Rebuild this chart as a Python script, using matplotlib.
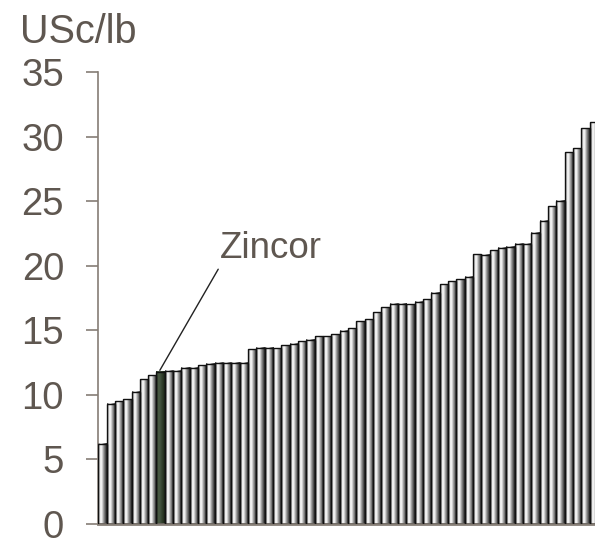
import numpy as np
import matplotlib
matplotlib.use("Agg")
import matplotlib.pyplot as plt
from matplotlib.colors import LinearSegmentedColormap

# cost curve values, USc/lb, sorted ascending
costs = [6.2, 9.3, 9.5, 9.65, 10.25, 11.2, 11.5, 11.8, 11.85, 11.85,
         12.1, 12.1, 12.3, 12.4, 12.5, 12.5, 12.5, 12.5, 13.55, 13.65,
         13.65, 13.6, 13.85, 13.95, 14.15, 14.25, 14.55, 14.55, 14.7, 14.95,
         15.15, 15.7, 15.85, 16.4, 16.8, 17.05, 17.05, 17.0, 17.2, 17.4,
         17.9, 18.55, 18.8, 18.95, 19.15, 20.9, 20.85, 21.2, 21.4, 21.45,
         21.7, 21.7, 22.55, 23.5, 24.6, 25.05, 28.8, 29.1, 30.65, 31.1]
highlight = 8          # Zincor, 1-based position
highlight_name = "Zincor"
yticks = [0, 5, 10, 15, 20, 25, 30, 35]

axis_col = "#857d75"
text_col = "#5f5750"
plt.rcParams['font.family'] = ['Liberation Sans', 'DejaVu Sans']

grey_cm = LinearSegmentedColormap.from_list(
    "cyl", ["#303030", "#bdbdbd", "#f8f8f8", "#eeeeee", "#b0b0b0", "#7c7c7c", "#4c4c4c", "#262626"])
green_cm = LinearSegmentedColormap.from_list(
    "cylg", ["#1f2a1c", "#3d4c38", "#4a5a44", "#465641", "#3a4936", "#2f3c2b", "#26321f", "#1c2519"])
ramp = np.linspace(0, 1, 64).reshape(1, -1)

fig = plt.figure(figsize=(5.95, 5.41), dpi=100)
ax = fig.add_axes([0.165, 0.0314, 0.835, 0.8355])

x = np.arange(1, len(costs) + 1)
bars = ax.bar(x, costs, width=1.0, fill=False, edgecolor="#111111", linewidth=1.0, zorder=3)
for i, b in enumerate(bars):
    cm = green_cm if i + 1 == highlight else grey_cm
    ax.imshow(ramp, cmap=cm, aspect="auto", interpolation="bilinear", zorder=2,
              extent=[b.get_x(), b.get_x() + b.get_width(), 0, b.get_height()])

ax.set_xlim(0.5, 60.13)
ax.set_ylim(0, 35)
ax.set_yticks(yticks)
ax.set_xticks([])
ax.tick_params(axis="y", direction="out", length=8.6, width=1.2, color=axis_col,
               labelsize=27.5, labelcolor=text_col, pad=16)
for s in ["top", "right"]:
    ax.spines[s].set_visible(False)
ax.spines["left"].set_color(axis_col)
ax.spines["left"].set_linewidth(1.2)
ax.spines["bottom"].set_color(axis_col)
ax.spines["bottom"].set_linewidth(2)

ax.annotate(highlight_name, xy=(highlight - 0.1, costs[highlight - 1] + 0.1),
            xytext=(15.1, 21.3), fontsize=26.5, color=text_col, va="center", ha="left",
            arrowprops=dict(arrowstyle="-", color="#222222", lw=1.0, shrinkA=0, shrinkB=0,
                            relpos=(0.0, 0.0)))

fig.text(20 / 595, 1 - 43 / 541, "USc/lb", fontsize=28.5, color=text_col, va="baseline", ha="left")

fig.savefig("out.png", dpi=100)
